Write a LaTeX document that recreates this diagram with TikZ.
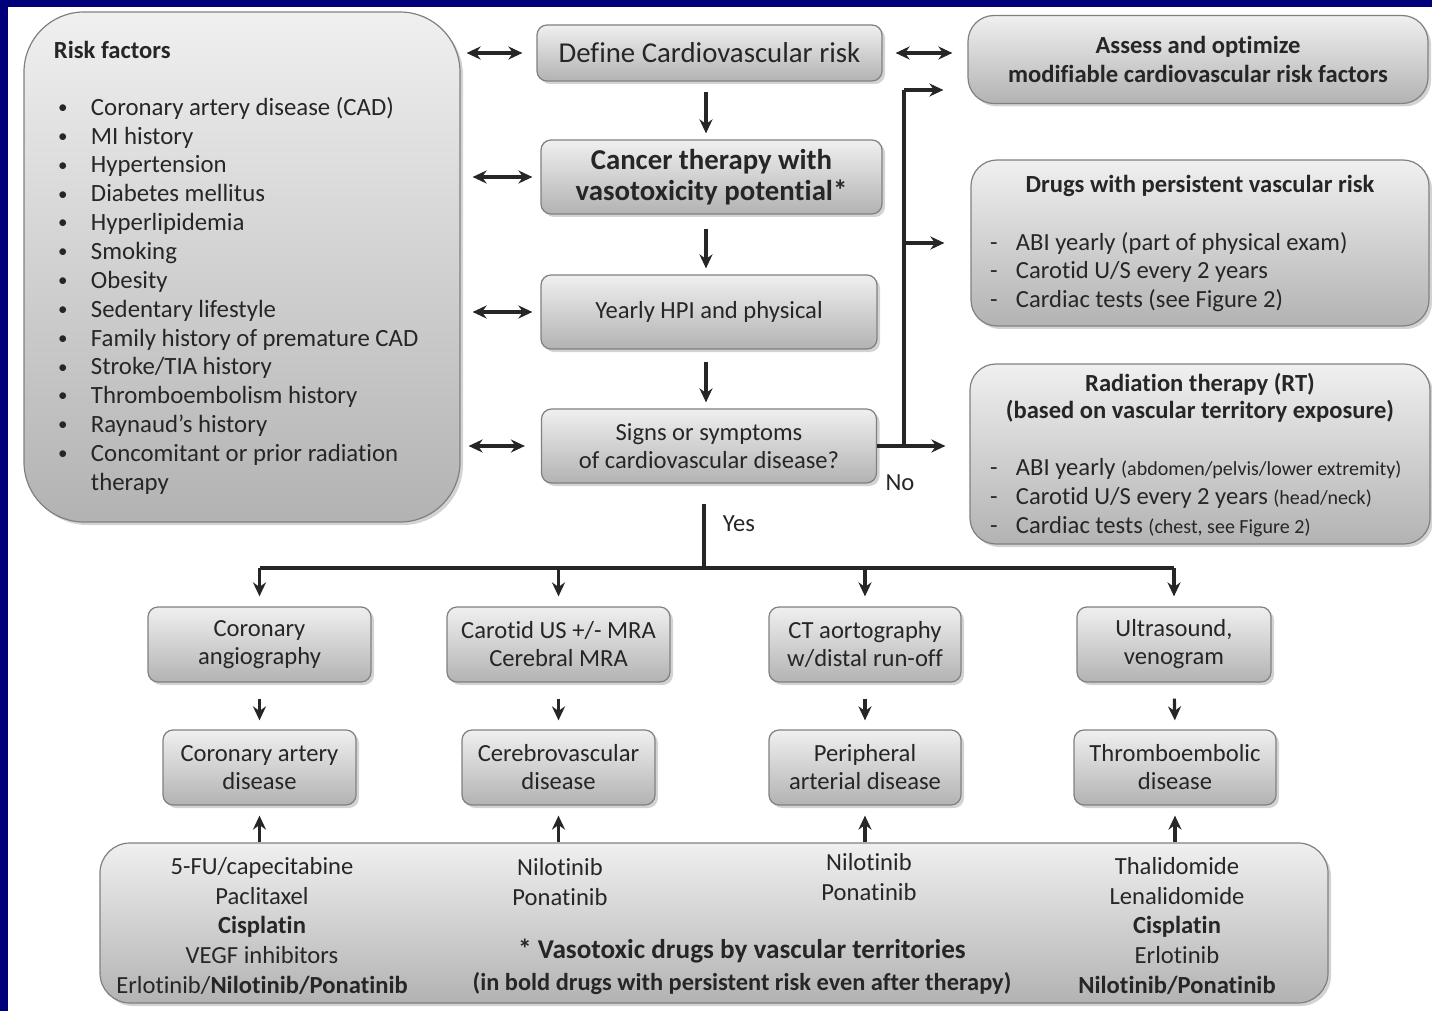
\documentclass[tikz,border=0pt]{standalone}
\usepackage{fontspec}
\setmainfont[Ligatures=NoCommon]{Carlito}
\usepackage{tikz}
\usetikzlibrary{arrows.meta}
\usetikzlibrary{shadows}
\definecolor{slideblue}{RGB}{0,0,122}
\newcommand{\boxsize}{\fontsize{12.3}{14}\selectfont}
\newcommand{\listsize}{\fontsize{12.4}{14.42}\selectfont}
\newcommand{\bigsize}{\fontsize{14.4}{15.5}\selectfont}
\newcommand{\notesize}{\fontsize{10}{12}\selectfont}
\newcommand{\listdot}{\raisebox{0.9pt}{\fontsize{9.5}{9.5}\selectfont\textbullet}}
\tikzstyle{box}=[draw=black!50, line width=0.6pt, top color=black!6, bottom color=black!30,
                 rounded corners=5pt, inner sep=0, align=center, text=black!85, font=\boxsize,
                 drop shadow={shadow xshift=1.5pt, shadow yshift=-1.5pt, opacity=0.35}]
\tikzstyle{sidebox}=[box, rounded corners=13pt]
\tikzstyle{txt}=[inner sep=0, outer sep=0, text=black!85, font=\boxsize, align=center]
\tikzstyle{conn}=[line width=1.6pt, draw=black!85]
\tikzstyle{arrow}=[conn, -{Stealth[length=7pt, width=6.5pt]}]
\tikzstyle{darrow}=[conn, {Stealth[length=7pt, width=6.5pt]}-{Stealth[length=7pt, width=6.5pt]}]
\begin{document}
\begin{tikzpicture}[x=0.5pt, y=-0.5pt]
    \useasboundingbox (0, 0) rectangle (1432, 1011);
    \fill[slideblue] (0, 0) rectangle (1432, 7);
    \fill[slideblue] (0, 0) rectangle (8, 1011);
    % risk factors
    \node[box, rounded corners=30pt, minimum width=218pt, minimum height=255pt] (risk) at (242, 267) {};
    \node[txt, anchor=west, font=\bfseries\boxsize] (risktitle) at (54, 50) {Risk factors};
    \node[txt, anchor=west, font=\listsize, align=left] (risklist) at (58, 297) {%
        \begin{tabular}{@{}p{16.5pt}@{}l@{}}
        \listdot & Coronary artery disease (CAD)\\
        \listdot & MI history\\
        \listdot & Hypertension\\
        \listdot & Diabetes mellitus\\
        \listdot & Hyperlipidemia\\
        \listdot & Smoking\\
        \listdot & Obesity\\
        \listdot & Sedentary lifestyle\\
        \listdot & Family history of premature CAD\\
        \listdot & Stroke/TIA history\\
        \listdot & Thromboembolism history\\
        \listdot & Raynaud’s history\\
        \listdot & Concomitant or prior radiation\\
                 & therapy
        \end{tabular}};
    % central column
    \node[box, font=\bigsize, minimum width=172.5pt, minimum height=28pt] (define) at (709.5, 53) {Define Cardiovascular risk};
    \node[box, font=\bfseries\bigsize, minimum width=170.5pt, minimum height=37pt] (cancer) at (711.5, 177) {Cancer therapy with\\vasotoxicity potential*};
    \node[box, minimum width=168pt, minimum height=37pt] (yearly) at (709, 312) {Yearly HPI and physical};
    \node[box, minimum width=167.5pt, minimum height=37pt] (signs) at (709, 446) {Signs or symptoms\\of cardiovascular disease?};
    % right column
    \node[sidebox, font=\bfseries\boxsize, minimum width=230pt, minimum height=44pt] (assess) at (1198, 59.5) {Assess and optimize\\[0.5pt]modifiable cardiovascular risk factors};
    \node[sidebox, minimum width=229pt, minimum height=83pt] (drugs) at (1200, 243) {};
    \node[txt, font=\bfseries\boxsize] (drugstitle) at (1200, 186) {Drugs with persistent vascular risk};
    \node[txt, anchor=west, align=left, font=\fontsize{12.3}{14.25}\selectfont] (drugslist) at (990, 273) {%
        \begin{tabular}{@{}p{13pt}@{}l@{}}
        - & ABI yearly (part of physical exam)\\
        - & Carotid U/S every 2 years\\
        - & Cardiac tests (see Figure 2)
        \end{tabular}};
    \node[sidebox, minimum width=230pt, minimum height=90pt] (radiation) at (1200, 454) {};
    \node[txt, font=\bfseries\fontsize{12.3}{13.5}\selectfont] (radtitle) at (1200, 397.5) {Radiation therapy (RT)\\(based on vascular territory exposure)};
    \node[txt, anchor=west, align=left, font=\fontsize{12.3}{14.5}\selectfont] (radlist) at (990, 499) {%
        \begin{tabular}{@{}p{13pt}@{}l@{}}
        - & ABI yearly {\notesize(abdomen/pelvis/lower extremity)}\\
        - & Carotid U/S every 2 years {\notesize(head/neck)}\\
        - & Cardiac tests {\notesize(chest, see Figure 2)}
        \end{tabular}};
    % work-up row
    \node[box, minimum width=111.5pt, minimum height=37.5pt] (test1) at (259.5, 644.5) {Coronary\\angiography};
    \node[box, minimum width=111.5pt, minimum height=37.5pt] (test2) at (558.5, 644.5) {Carotid US +/- MRA\\Cerebral MRA};
    \node[box, minimum width=96pt, minimum height=37.5pt] (test3) at (865, 644.5) {CT aortography\\w/distal run-off};
    \node[box, minimum width=97pt, minimum height=37.5pt] (test4) at (1174, 644.5) {Ultrasound,\\venogram};
    % disease row
    \node[box, minimum width=96.5pt, minimum height=37.5pt] (dis1) at (259.5, 767.5) {Coronary artery\\disease};
    \node[box, minimum width=96.5pt, minimum height=37.5pt] (dis2) at (558.5, 767.5) {Cerebrovascular\\disease};
    \node[box, minimum width=96pt, minimum height=37.5pt] (dis3) at (865, 767.5) {Peripheral\\arterial disease};
    \node[box, minimum width=101pt, minimum height=37.5pt] (dis4) at (1175, 767.5) {Thromboembolic\\disease};
    % vasotoxic drugs
    \node[box, rounded corners=15pt, minimum width=614pt, minimum height=80pt] (vaso) at (714, 923) {};
    \node[txt, font=\fontsize{12.3}{14.9}\selectfont] (drugs1) at (262, 926) {5-FU/capecitabine\\Paclitaxel\\\textbf{Cisplatin}\\VEGF inhibitors\\Erlotinib/\textbf{Nilotinib/Ponatinib}};
    \node[txt, font=\fontsize{12.3}{15}\selectfont] (drugs2) at (560, 882) {Nilotinib\\Ponatinib};
    \node[txt, font=\fontsize{12.3}{15}\selectfont] (drugs3) at (869, 877) {Nilotinib\\Ponatinib};
    \node[txt, font=\fontsize{12.3}{14.9}\selectfont] (drugs4) at (1177, 926) {Thalidomide\\Lenalidomide\\\textbf{Cisplatin}\\Erlotinib\\\textbf{Nilotinib/Ponatinib}};
    \node[txt, font=\bfseries\fontsize{13.6}{15}\selectfont] (note1) at (742, 951) {* Vasotoxic drugs by vascular territories};
    \node[txt, font=\bfseries\fontsize{12.2}{14}\selectfont] (note2) at (742, 984) {(in bold drugs with persistent risk even after therapy)};
    % connectors
    \draw[darrow, shorten <=3pt, shorten >=7pt] (risk.east |- define.west) -- (define.west);
    \draw[darrow, shorten <=6pt, shorten >=4pt] (risk.east |- cancer.west) -- (cancer.west);
    \draw[darrow, shorten <=6pt, shorten >=4pt] (risk.east |- yearly.west) -- (yearly.west);
    \draw[darrow, shorten <=4pt, shorten >=8pt] (risk.east |- signs.west) -- (signs.west);
    \draw[darrow, shorten <=6.5pt, shorten >=7.5pt] (define.east) -- (define.east -| assess.west);
    \draw[arrow, shorten <=5pt, shorten >=3pt] (define.south -| 706, 0) -- (cancer.north -| 706, 0);
    \draw[arrow, shorten <=7pt, shorten >=3pt] (cancer.south -| 706, 0) -- (yearly.north -| 706, 0);
    \draw[arrow, shorten <=6pt, shorten >=3pt] (yearly.south -| 706, 0) -- (signs.north -| 706, 0);
    \coordinate (notop) at (904, 90);
    \coordinate (nojoin) at (904, 446);
    \draw[arrow, shorten >=12pt] (signs.east) -- (signs.east -| radiation.west);
    \draw[conn] (notop) -- (nojoin);
    \draw[arrow, shorten >=12pt] (notop) -- (notop -| assess.west);
    \draw[arrow, shorten >=13pt] (nojoin |- drugs.west) -- (drugs.west);
    \node[txt] (nolabel) at (900, 483) {No};
    \coordinate (yesbus) at (704, 568);
    \draw[conn, shorten <=10pt] (yesbus |- signs.south) -- (yesbus);
    \node[txt] (yeslabel) at (739, 524) {Yes};
    \draw[conn] (test1.north |- yesbus) -- (test4.north |- yesbus);
    \foreach \n in {1, 2, 3, 4} {
        \draw[arrow, shorten >=5pt] (test\n.north |- yesbus) -- (test\n.north);
        \draw[arrow, shorten <=8pt, shorten >=4.5pt] (test\n.south) -- (dis\n.north);
        \draw[arrow, shorten >=5pt] (dis\n.south |- vaso.north) -- (dis\n.south);
    }
\end{tikzpicture}
\end{document}
